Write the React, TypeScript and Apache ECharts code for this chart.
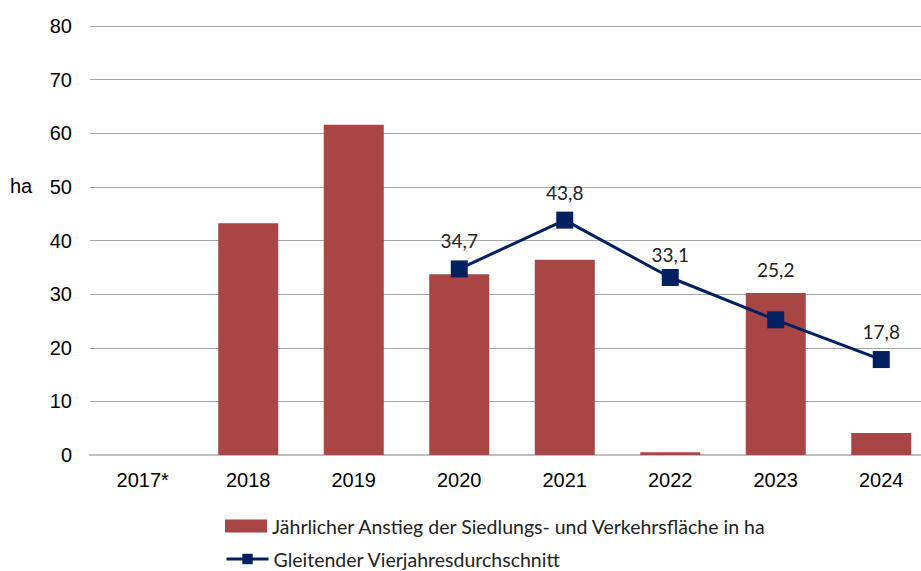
import React, { useEffect, useRef } from "react";
import * as echarts from "echarts";

const categories = ["2017*", "2018", "2019", "2020", "2021", "2022", "2023", "2024"];
const annualIncrease = [null, 43.2, 61.6, 33.7, 36.4, 0.5, 30.2, 4.1];
const movingAverage = [null, null, null, 34.7, 43.8, 33.1, 25.2, 17.8];
const yTicks = { min: 0, max: 80, interval: 10 };

const barName = "Jährlicher Anstieg der Siedlungs- und Verkehrsfläche in ha";
const lineName = "Gleitender Vierjahresdurchschnitt";

// label tweaks (pixels) to mimic hand-placed labels of the original
const labelOffsets: Record<number, [number, number]> = { 5: [0, 5], 6: [0, -22] };

export default function App() {
  const ref = useRef<HTMLDivElement>(null);
  useEffect(() => {
    if (!ref.current) return;
    const chart = echarts.init(ref.current, null, { renderer: "svg" });
    const legendText = { fontFamily: "Lato", fontSize: 19.5, color: "#222", lineHeight: 20 };
    chart.setOption({
      animation: false,
      backgroundColor: "#ffffff",
      grid: { left: 90, top: 26, height: 429, width: 844, outerBoundsMode: "none", containLabel: false },
      graphic: [
        {
          type: "text",
          left: 10,
          top: 176,
          style: { text: "ha", font: "20px 'Liberation Sans', Arial, sans-serif", fill: "#000" },
        },
      ],
      legend: [
        {
          orient: "vertical",
          left: 225,
          top: 516,
          padding: 0,
          itemWidth: 42,
          itemHeight: 13,
          itemGap: 4,
          textStyle: legendText,
          data: [{ name: barName, icon: "rect" }],
        },
        {
          orient: "vertical",
          left: 225,
          top: 549,
          padding: 0,
          itemWidth: 42,
          itemHeight: 13,
          itemGap: 4,
          textStyle: legendText,
          lineStyle: { width: 3 },
          data: [{ name: lineName }],
        },
      ],
      xAxis: {
        type: "category",
        data: categories,
        axisLine: { show: true, lineStyle: { color: "#bfbfbf", width: 2 } },
        axisTick: { show: false },
        axisLabel: {
          color: "#000",
          fontFamily: "'Liberation Sans', Arial, sans-serif",
          fontSize: 20,
          margin: 15,
        },
      },
      yAxis: {
        type: "value",
        min: yTicks.min,
        max: yTicks.max,
        interval: yTicks.interval,
        axisLine: { show: false },
        axisTick: { show: false },
        splitLine: { lineStyle: { color: "#a6a6a6", width: 1 } },
        axisLabel: {
          color: "#000",
          fontFamily: "'Liberation Sans', Arial, sans-serif",
          fontSize: 20,
          margin: 18,
        },
      },
      series: [
        {
          name: barName,
          type: "bar",
          data: annualIncrease,
          barWidth: 60,
          itemStyle: { color: "#a84646" },
        },
        {
          name: lineName,
          type: "line",
          data: movingAverage.map((v, i) =>
            labelOffsets[i] ? { value: v, label: { offset: labelOffsets[i] } } : v
          ),
          symbol: "rect",
          symbolSize: 17,
          lineStyle: { color: "#002060", width: 3 },
          itemStyle: { color: "#002060" },
          label: {
            show: true,
            position: "top",
            distance: 10,
            fontFamily: "Lato",
            fontSize: 19,
            color: "#222",
            formatter: (p: any) => String(p.value).replace(".", ","),
          },
        },
      ],
    });
    return () => chart.dispose();
  }, []);
  return <div ref={ref} style={{ width: 921, height: 571, position: "absolute", left: 0, top: 0 }} />;
}
